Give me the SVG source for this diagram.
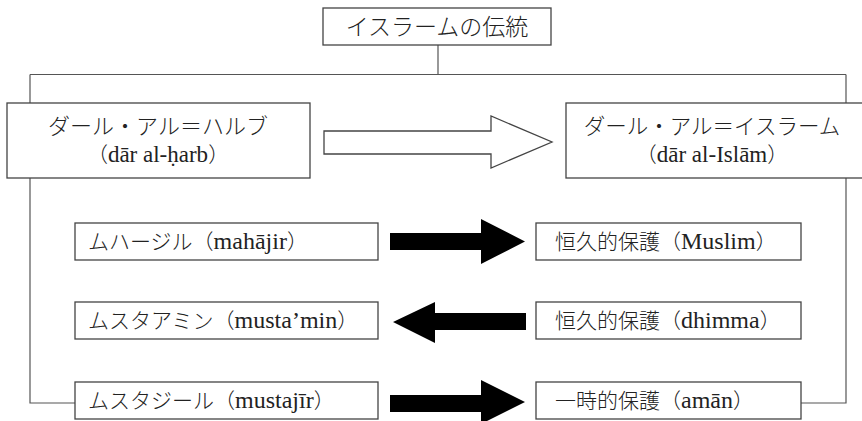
<svg xmlns="http://www.w3.org/2000/svg" width="862" height="421" viewBox="0 0 862 421">
<style>
.line{fill:none;stroke:#555;stroke-width:1.2}
.box{fill:#fff;stroke:#444;stroke-width:1.3}
.t{font-family:"Liberation Serif","Noto Sans CJK JP",serif;fill:#222}
.j{font-family:"Noto Sans CJK JP","Liberation Serif",serif;font-weight:300}
.ttl{font-size:23px}
.big{font-size:21px}
.sm{font-size:21px}
.l{font-size:24px}
.l2{font-size:23px}
.blk{fill:#000;stroke:none}
</style>
<rect width="862" height="421" fill="#fff"/>
<g id="connectors">
<path class="line" d="M438,45 V74.5 M30,74.5 H846 M30,74.5 V403 H75 M846,74.5 V403 H801"/>
<polygon class="box" points="324,131 491,131 491,116 552,142 491,168 491,154 324,154"/>
<polygon class="blk" points="390,233 481,233 481,219 525,241.5 481,264 481,250 390,250"/>
<polygon class="blk" points="526,313 435,313 435,302 393,322 435,343 435,330 526,330"/>
<polygon class="blk" points="390,395 481,395 481,380 525,402 481,424 481,412 390,412"/>
</g>
<g id="tradition">
<rect class="box" x="323" y="8" width="228" height="37"/>
<text class="t j ttl" x="437" y="35" text-anchor="middle">イスラームの伝統</text>
</g>
<g id="dar-al-harb">
<rect class="box" x="7" y="103" width="303" height="75"/>
<text class="t j" style="font-size:22px" x="158" y="134" text-anchor="middle">ダール・アル＝ハルブ</text>
<text class="t big" x="158" y="162" text-anchor="middle"><tspan class="j">（</tspan><tspan class="l2">dār al-ḥarb</tspan><tspan class="j">）</tspan></text>
</g>
<g id="dar-al-islam">
<rect class="box" x="566" y="103" width="300" height="75"/>
<text class="t j" style="font-size:21.5px" x="712" y="134" text-anchor="middle">ダール・アル＝イスラーム</text>
<text class="t big" x="712" y="162" text-anchor="middle"><tspan class="j">（</tspan><tspan class="l2">dār al-Islām</tspan><tspan class="j">）</tspan></text>
</g>
<g id="muhajir">
<rect class="box" x="75" y="223" width="303" height="37"/>
<text class="t sm" x="88" y="249"><tspan class="j">ムハージル（</tspan><tspan class="l">mahājir</tspan><tspan class="j">）</tspan></text>
</g>
<g id="mustamin">
<rect class="box" x="75" y="302" width="303" height="37"/>
<text class="t sm" x="88" y="328"><tspan class="j">ムスタアミン（</tspan><tspan class="l">musta’min</tspan><tspan class="j">）</tspan></text>
</g>
<g id="mustajir">
<rect class="box" x="75" y="382" width="303" height="37"/>
<text class="t sm" x="88" y="408"><tspan class="j">ムスタジール（</tspan><tspan class="l">mustajīr</tspan><tspan class="j">）</tspan></text>
</g>
<g id="muslim">
<rect class="box" x="536" y="223" width="265" height="37"/>
<text class="t sm" x="555" y="249"><tspan class="j">恒久的保護（</tspan><tspan class="l">Muslim</tspan><tspan class="j">）</tspan></text>
</g>
<g id="dhimma">
<rect class="box" x="536" y="302" width="265" height="37"/>
<text class="t sm" x="555" y="328"><tspan class="j">恒久的保護（</tspan><tspan class="l">dhimma</tspan><tspan class="j">）</tspan></text>
</g>
<g id="aman">
<rect class="box" x="536" y="382" width="265" height="37"/>
<text class="t sm" x="555" y="408"><tspan class="j">一時的保護（</tspan><tspan class="l">amān</tspan><tspan class="j">）</tspan></text>
</g>
</svg>
